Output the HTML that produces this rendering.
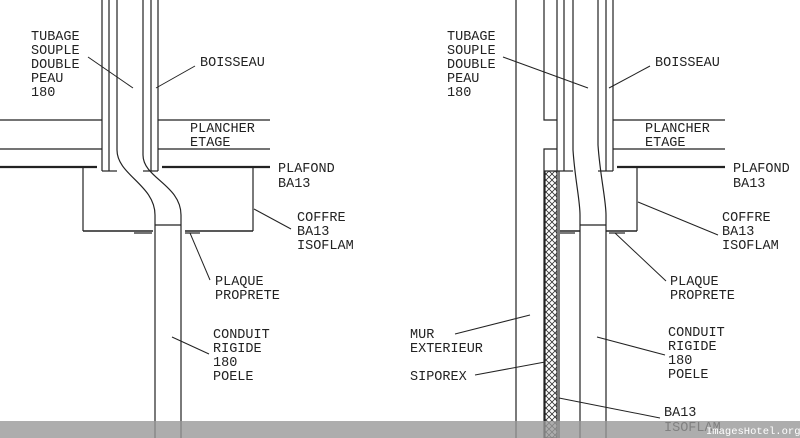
<!DOCTYPE html>
<html><head><meta charset="utf-8"><style>
html,body{margin:0;padding:0;background:#fff;width:800px;height:438px;overflow:hidden}
text{font-family:"Liberation Mono",monospace;font-size:13.5px;fill:#222}
</style></head><body>
<svg width="800" height="438" viewBox="0 0 800 438" xmlns="http://www.w3.org/2000/svg">
<defs>
<pattern id="h" width="6" height="6" patternUnits="userSpaceOnUse">
<path d="M0,0L6,6M6,0L0,6" stroke="#333" stroke-width="0.8"/>
</pattern>
</defs>
<g stroke="#222" stroke-width="1.2" fill="none">
<line x1="102" y1="0" x2="102" y2="171"/><line x1="109" y1="0" x2="109" y2="171"/>
<line x1="151" y1="0" x2="151" y2="171"/><line x1="158" y1="0" x2="158" y2="171"/>
<line x1="102" y1="171" x2="117" y2="171"/><line x1="143" y1="171" x2="158" y2="171"/>
<path d="M117,0 V150 C117,175 155,185 155,215 V438"/>
<path d="M143,0 V155 C143,178 181,185 181,215 V438"/>
<line x1="155" y1="225" x2="181" y2="225"/>
<line x1="0" y1="120" x2="102" y2="120"/><line x1="158" y1="120" x2="270" y2="120"/>
<line x1="0" y1="149" x2="102" y2="149"/><line x1="158" y1="149" x2="270" y2="149"/>
<line x1="0" y1="167" x2="97" y2="167" stroke-width="2.2"/><line x1="162" y1="167" x2="270" y2="167" stroke-width="2.2"/>
<line x1="83" y1="167" x2="83" y2="231"/><line x1="253" y1="167" x2="253" y2="231"/>
<line x1="83" y1="231" x2="153" y2="231" stroke-width="1.6"/><line x1="185" y1="231" x2="253" y2="231" stroke-width="1.6"/>
<line x1="134" y1="233" x2="152" y2="233"/><line x1="185" y1="233" x2="200" y2="233"/>
<line x1="88" y1="57" x2="133" y2="88" stroke-width="1"/>
<line x1="195" y1="66" x2="156" y2="88" stroke-width="1"/>
<line x1="254" y1="209" x2="291" y2="229" stroke-width="1"/>
<line x1="190" y1="233" x2="210" y2="280" stroke-width="1"/>
<line x1="172" y1="337" x2="209" y2="354" stroke-width="1"/>
<line x1="516" y1="0" x2="516" y2="438"/>
<path d="M544,0 V120 H557"/><path d="M557,149 H544 V438"/>
<rect x="545" y="171" width="12" height="267" fill="url(#h)" stroke="#222"/>
<line x1="559" y1="171" x2="559" y2="438"/>
<line x1="557" y1="0" x2="557" y2="171"/><line x1="564" y1="0" x2="564" y2="171"/>
<line x1="606" y1="0" x2="606" y2="171"/><line x1="613" y1="0" x2="613" y2="171"/>
<line x1="557" y1="171" x2="573" y2="171"/><line x1="598" y1="171" x2="613" y2="171"/>
<path d="M573,0 V150 C575,180 580,200 580,215 V438"/>
<path d="M598,0 V145 C600,175 606,200 606,215 V438"/>
<line x1="580" y1="225" x2="606" y2="225"/>
<line x1="613" y1="120" x2="725" y2="120"/><line x1="613" y1="149" x2="725" y2="149"/>
<line x1="617" y1="167" x2="725" y2="167" stroke-width="2.2"/>
<line x1="637" y1="167" x2="637" y2="231"/>
<line x1="560" y1="231" x2="580" y2="231" stroke-width="1.6"/><line x1="606" y1="231" x2="637" y2="231" stroke-width="1.6"/>
<line x1="560" y1="233" x2="575" y2="233"/><line x1="609" y1="233" x2="625" y2="233"/>
<line x1="503" y1="57" x2="588" y2="88" stroke-width="1"/>
<line x1="650" y1="66" x2="609" y2="88" stroke-width="1"/>
<line x1="638" y1="202" x2="718" y2="235" stroke-width="1"/>
<line x1="615" y1="233" x2="666" y2="281" stroke-width="1"/>
<line x1="455" y1="334" x2="530" y2="315" stroke-width="1"/>
<line x1="475" y1="375" x2="545" y2="362" stroke-width="1"/>
<line x1="597" y1="337" x2="665" y2="355" stroke-width="1"/>
<line x1="559" y1="398" x2="660" y2="418" stroke-width="1"/>
</g>
<g>
<text x="31" y="40">TUBAGE</text><text x="31" y="54">SOUPLE</text><text x="31" y="68">DOUBLE</text><text x="31" y="82">PEAU</text><text x="31" y="96">180</text>
<text x="200" y="66">BOISSEAU</text>
<text x="190" y="132">PLANCHER</text><text x="190" y="146">ETAGE</text>
<text x="278" y="172">PLAFOND</text><text x="278" y="187">BA13</text>
<text x="297" y="221">COFFRE</text><text x="297" y="235">BA13</text><text x="297" y="249">ISOFLAM</text>
<text x="215" y="285">PLAQUE</text><text x="215" y="299">PROPRETE</text>
<text x="213" y="338">CONDUIT</text><text x="213" y="352">RIGIDE</text><text x="213" y="366">180</text><text x="213" y="380">POELE</text>
<text x="447" y="40">TUBAGE</text><text x="447" y="54">SOUPLE</text><text x="447" y="68">DOUBLE</text><text x="447" y="82">PEAU</text><text x="447" y="96">180</text>
<text x="655" y="66">BOISSEAU</text>
<text x="645" y="132">PLANCHER</text><text x="645" y="146">ETAGE</text>
<text x="733" y="172">PLAFOND</text><text x="733" y="187">BA13</text>
<text x="722" y="221">COFFRE</text><text x="722" y="235">BA13</text><text x="722" y="249">ISOFLAM</text>
<text x="670" y="285">PLAQUE</text><text x="670" y="299">PROPRETE</text>
<text x="410" y="338">MUR</text><text x="410" y="352">EXTERIEUR</text>
<text x="410" y="380">SIPOREX</text>
<text x="668" y="336">CONDUIT</text><text x="668" y="350">RIGIDE</text><text x="668" y="364">180</text><text x="668" y="378">POELE</text>
<text x="664" y="416">BA13</text><text x="664" y="431">ISOFLAM</text>
</g>
<rect x="0" y="421" width="800" height="17" fill="#999" opacity="0.8"/>
<text x="706" y="434" style="fill:#fff;font-size:10.5px">ImagesHotel.org</text>
</svg>
</body></html>
